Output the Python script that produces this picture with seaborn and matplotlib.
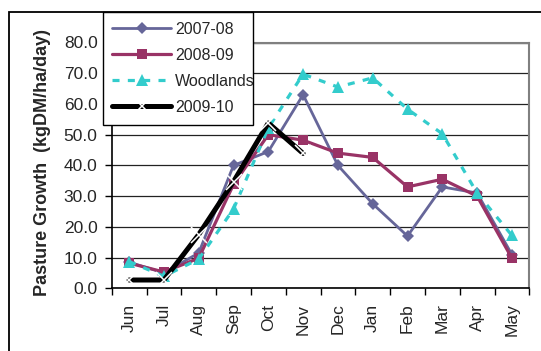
import matplotlib
matplotlib.use("Agg")
import matplotlib.pyplot as plt
from matplotlib.patches import Rectangle
from matplotlib.ticker import FixedLocator, NullFormatter
import seaborn as sns

months = ["Jun", "Jul", "Aug", "Sep", "Oct", "Nov", "Dec", "Jan", "Feb", "Mar", "Apr", "May"]
growth_2007_08 = [8.5, 5.0, 11.5, 40.0, 44.5, 63.0, 40.0, 27.5, 17.0, 33.0, 31.0, 11.0]
growth_2008_09 = [8.2, 5.3, 9.8, 33.8, 50.0, 48.2, 44.0, 42.6, 33.0, 35.5, 30.0, 9.8]
growth_woodlands = [8.7, 3.9, 9.5, 25.8, 52.2, 69.7, 65.5, 68.5, 58.3, 50.3, 31.0, 17.2]
growth_2009_10 = [2.7, 2.7, 17.5, 34.7, 53.8, 43.9]

sns.set_theme(style="white")
plt.rcParams["font.family"] = ["Liberation Sans", "DejaVu Sans"]

W, H = 541, 351
fig = plt.figure(figsize=(W / 100, H / 100), dpi=100)
ax = fig.add_axes([111.7 / W, 1 - 288.3 / H, (529.3 - 111.7) / W, (288.3 - 42.5) / H])

sns.lineplot(x=months, y=growth_2007_08, ax=ax, sort=False, color="#666699",
             linewidth=2.0, marker="D", markersize=6.5, markeredgewidth=0,
             label="2007-08")
sns.lineplot(x=months, y=growth_2008_09, ax=ax, sort=False, color="#993366",
             linewidth=2.3, marker="s", markersize=7, markeredgewidth=0,
             label="2008-09")
sns.lineplot(x=months, y=growth_woodlands, ax=ax, sort=False, color="#33CCCC",
             linewidth=2.3, linestyle=(0, (2.2, 2.6)), marker="^", markersize=8.5,
             markeredgewidth=0, label="Woodlands")
sns.lineplot(x=months[:len(growth_2009_10)], y=growth_2009_10, ax=ax, sort=False,
             color="black", linewidth=3.6, marker="x", markersize=11.5,
             markeredgewidth=1.1, label="2009-10")

ax.set_xlim(-0.5, len(months) - 0.5)
ax.set_ylim(0, 80)
ax.set_yticks(range(0, 81, 10))
ax.set_yticklabels([f"{v:.1f}" for v in range(0, 81, 10)], fontsize=12.5)
ax.set_xticks(range(len(months)))
ax.set_xticklabels(months, rotation=90, fontsize=12.5)
ax.xaxis.set_minor_locator(FixedLocator([i - 0.5 for i in range(len(months) + 1)]))
ax.xaxis.set_minor_formatter(NullFormatter())
ax.tick_params(axis="x", which="major", length=0, pad=11)
ax.tick_params(axis="x", which="minor", length=5, width=1, color="black", direction="out", bottom=True)
ax.tick_params(axis="y", length=4.7, width=1, color="black", direction="out", left=True, pad=5.5)

ax.yaxis.grid(True, color="#222222", linewidth=0.9)
ax.xaxis.grid(False)
ax.set_axisbelow(True)
for side in ("left", "bottom"):
    ax.spines[side].set_color("black")
    ax.spines[side].set_linewidth(1.2)
for side in ("top", "right"):
    ax.spines[side].set_color("#808080")
    ax.spines[side].set_linewidth(1.5)

ax.set_xlabel("")
ax.set_ylabel("Pasture Growth  (kgDM/ha/day)", fontsize=13, fontweight="bold")
ax.yaxis.set_label_coords(-0.146, 0.51)

leg_x0, leg_x1, leg_top = 102.7 / W, 253.3 / W, 1 - 12.3 / H
leg = ax.legend(loc="upper left", bbox_to_anchor=(leg_x0, leg_top - 0.3, leg_x1 - leg_x0, 0.3),
                bbox_transform=fig.transFigure, mode="expand", fontsize=11.5,
                frameon=True, fancybox=False, handlelength=3.7, handletextpad=0.25,
                labelspacing=0.69, borderpad=0.6, borderaxespad=0)
leg.get_frame().set_edgecolor("black")
leg.get_frame().set_linewidth(1.0)
leg.get_frame().set_facecolor("white")
leg.get_frame().set_alpha(1)

fig.patches.append(Rectangle((9.3 / W, -0.05), 1.1, 1 - 12.3 / H + 0.05,
                             transform=fig.transFigure, fill=False,
                             edgecolor="black", linewidth=1.3, zorder=0))

fig.savefig("out.png", dpi=100)
